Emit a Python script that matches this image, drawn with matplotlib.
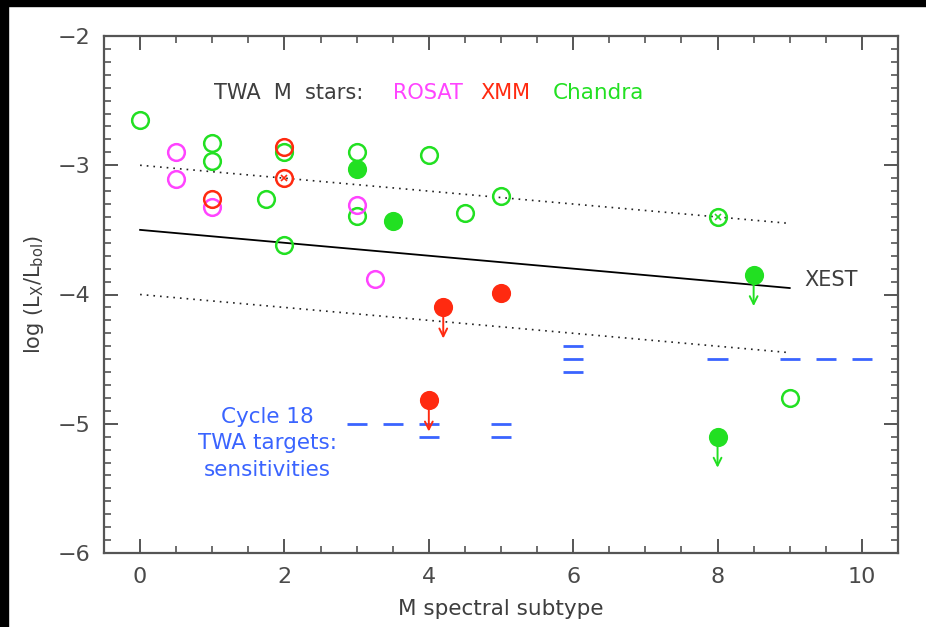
import matplotlib
matplotlib.use("Agg")
import matplotlib.pyplot as plt
from matplotlib.patches import Rectangle
import numpy as np

# ---- data ----
chandra_open_x = [0, 1, 1, 2, 1.75, 2, 3, 3, 4, 4.5, 5, 9]
chandra_open_y = [-2.65, -2.83, -2.97, -2.90, -3.26, -3.62, -2.90, -3.39, -2.92, -3.37, -3.24, -4.80]
chandra_cross_x = [8]
chandra_cross_y = [-3.40]
chandra_fill_x = [3, 3.5]
chandra_fill_y = [-3.03, -3.43]
chandra_ul_x = [8.5, 8]
chandra_ul_y = [-3.85, -5.10]

rosat_open_x = [0.5, 0.5, 1, 3, 3.25]
rosat_open_y = [-2.90, -3.11, -3.32, -3.31, -3.88]

xmm_open_x = [2, 1]
xmm_open_y = [-2.86, -3.26]
xmm_cross_x = [2]
xmm_cross_y = [-3.10]
xmm_fill_x = [5]
xmm_fill_y = [-3.99]
xmm_ul_x = [4.2, 4]
xmm_ul_y = [-4.10, -4.82]

xest_x = [0, 9]
xest_y = [-3.50, -3.95]
xest_upper_y = [-3.00, -3.45]
xest_lower_y = [-4.00, -4.45]

sens_x = [3, 3.5, 4, 4, 5, 5, 6, 6, 6, 8, 9, 9.5, 10]
sens_y = [-5.0, -5.0, -5.0, -5.1, -5.0, -5.1, -4.4, -4.5, -4.6, -4.5, -4.5, -4.5, -4.5]

x_ticks = [0, 2, 4, 6, 8, 10]
y_ticks = [-6, -5, -4, -3, -2]

# ---- style ----
GREEN = "#22e022"
MAGENTA = "#ff44ff"
RED = "#ff2a10"
BLUE = "#3a64ff"
TXT = "#3e3e3e"
FRAME = "#555555"

fig = plt.figure(figsize=(9.26, 6.27), dpi=100)
fig.patch.set_facecolor("white")
ax = fig.add_axes([104/926, 1-553/627, (898-104)/926, (553-36)/627])
fig.patches.append(Rectangle((0, 1-6/627), 1, 6/627, transform=fig.transFigure, color="black", zorder=10))
fig.patches.append(Rectangle((0, 0), 8/926, 1, transform=fig.transFigure, color="black", zorder=10))

ax.set_xlim(-0.5, 10.5)
ax.set_ylim(-6, -2)

ms = 12
mew = 1.8

# lines
ax.plot(xest_x, xest_y, color="black", lw=1.3, zorder=2)
ax.plot(xest_x, xest_upper_y, color="#222222", lw=1.2, ls=(0, (1, 3)), zorder=2)
ax.plot(xest_x, xest_lower_y, color="#222222", lw=1.2, ls=(0, (1, 3)), zorder=2)

# sensitivities
sx = np.array(sens_x)
ax.hlines(sens_y, sx - 0.14, sx + 0.14, color=BLUE, lw=2.0, zorder=3)

def open_pts(x, y, c):
    ax.plot(x, y, "o", ms=ms, mfc="none", mec=c, mew=mew, ls="none", zorder=4)

def fill_pts(x, y, c):
    ax.plot(x, y, "o", ms=ms, mfc=c, mec=c, mew=mew, ls="none", zorder=4)

def cross_pts(x, y, c):
    open_pts(x, y, c)
    ax.plot(x, y, "x", ms=5, mec=c, mew=1.2, ls="none", zorder=4)

def ul_pts(x, y, c):
    fill_pts(x, y, c)
    for xi, yi in zip(x, y):
        ax.annotate("", xy=(xi, yi - 0.24), xytext=(xi, yi),
                    arrowprops=dict(arrowstyle="->", color=c, lw=1.4,
                                    mutation_scale=14, shrinkA=0, shrinkB=0), zorder=4)

open_pts(chandra_open_x, chandra_open_y, GREEN)
cross_pts(chandra_cross_x, chandra_cross_y, GREEN)
fill_pts(chandra_fill_x, chandra_fill_y, GREEN)
ul_pts(chandra_ul_x, chandra_ul_y, GREEN)

open_pts(rosat_open_x, rosat_open_y, MAGENTA)

open_pts(xmm_open_x, xmm_open_y, RED)
cross_pts(xmm_cross_x, xmm_cross_y, RED)
fill_pts(xmm_fill_x, xmm_fill_y, RED)
ul_pts(xmm_ul_x, xmm_ul_y, RED)

# texts
fs = 15
ax.text(1.02, -2.44, "TWA  M  stars:", color=TXT, fontsize=fs, va="center", ha="left")
ax.text(3.5, -2.44, "ROSAT", color=MAGENTA, fontsize=fs, va="center", ha="left")
ax.text(4.72, -2.44, "XMM", color=RED, fontsize=fs, va="center", ha="left")
ax.text(5.72, -2.44, "Chandra", color=GREEN, fontsize=15.5, va="center", ha="left")
ax.text(9.2, -3.89, "XEST", color=TXT, fontsize=fs, va="center", ha="left")
ax.text(1.76, -5.15, "Cycle 18\nTWA targets:\nsensitivities", color=BLUE, fontsize=15.5,
        va="center", ha="center", linespacing=1.4)

# axes styling
for s in ax.spines.values():
    s.set_color(FRAME)
    s.set_linewidth(1.6)
ax.set_xticks(x_ticks)
ax.set_yticks(y_ticks)
ax.set_xticks(np.arange(-0.5, 10.51, 0.5), minor=True)
ax.set_yticks(np.arange(-6, -1.99, 0.1), minor=True)
ax.tick_params(which="both", direction="in", top=True, right=True, colors=FRAME)
ax.tick_params(which="major", length=10, width=1.4, labelsize=16, labelcolor="#4a4a4a", pad=10)
ax.tick_params(which="minor", length=5, width=1.2)
ax.set_xticklabels([str(v) for v in x_ticks])
ax.set_yticklabels(["\u2212" + str(-v) for v in y_ticks])

ax.set_xlabel("M spectral subtype", fontsize=15.5, color=TXT, labelpad=9)
ax.set_ylabel(r"log (L$_{\rm X}$/L$_{\rm bol}$)", fontsize=15, color=TXT, labelpad=8)

fig.savefig("out.png", dpi=100)
